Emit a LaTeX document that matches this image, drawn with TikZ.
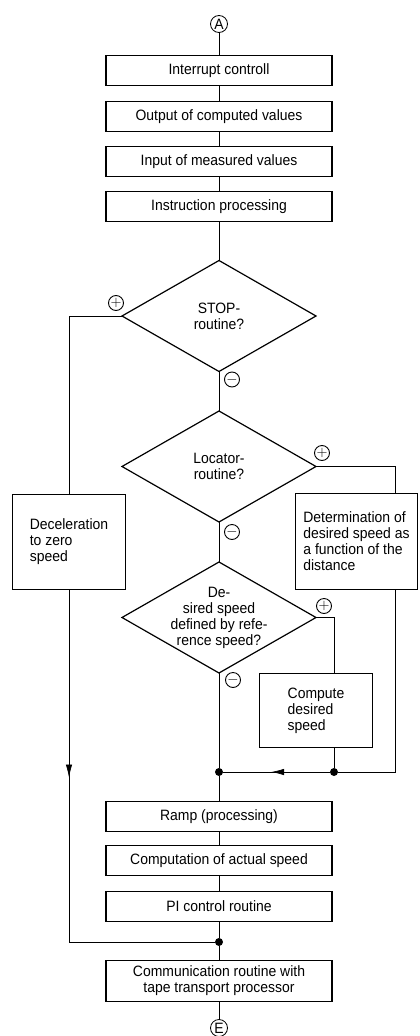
\documentclass[tikz,border=0pt]{standalone}
\usepackage{fontspec}
\setmainfont{Liberation Sans}[FakeStretch=0.93]
\usepackage{tikz}
\usetikzlibrary{shapes,arrows,arrows.meta,positioning,calc,decorations.markings}

\tikzset{
  proc/.style={draw,line width=1.2pt,outer sep=0pt,minimum width=226pt,minimum height=30pt,inner sep=2pt,align=center},
  sidebox/.style={draw,line width=1.2pt,outer sep=0pt,inner sep=2pt,align=left},
  decision/.style={diamond,draw,line width=1.2pt,outer sep=0pt,aspect=1.74,minimum width=194pt,minimum height=111pt,inner sep=-3pt,align=center},
  conn/.style={circle,draw,line width=0.8pt,outer sep=0pt,minimum size=17pt,inner sep=0pt},
  sign/.style={circle,draw,line width=0.9pt,outer sep=0pt,minimum size=15pt,inner sep=0pt,font=\fontsize{15}{15}\selectfont},
  dot/.style={circle,fill,outer sep=0pt,minimum size=8pt,inner sep=0pt},
  flow/.style={line width=0.7pt},
  arrowat/.style={postaction={decorate},decoration={markings,mark=at position #1 with {\arrow{Latex[length=13pt,width=6.5pt]}}}}
}

\begin{document}
\begin{tikzpicture}[every node/.style={font=\fontsize{15}{16}\selectfont}]
\useasboundingbox (0,0) rectangle (420pt,-1036pt);
% main column
\node[conn] (A) at (219pt,-24pt) {A};
\node[proc,below=23pt of A] (intr) {Interrupt controll};
\node[proc,below=16pt of intr] (outp) {Output of computed values};
\node[proc,below=15pt of outp] (inp) {Input of measured values};
\node[proc,below=15pt of inp] (instr) {Instruction processing};
\node[decision,below=39pt of instr] (stop) {STOP-\\routine?};
\node[decision,below=39.5pt of stop] (loc) {Locator-\\routine?};
\node[decision,below=40pt of loc] (ref) {De-\\sired speed\\defined by refe-\\rence speed?};
\node[dot,below=95pt of ref] (jl) {};
\node[proc,below=25.5pt of jl] (ramp) {Ramp (processing)};
\node[proc,below=14pt of ramp] (act) {Computation of actual speed};
\node[proc,below=16pt of act] (pi) {PI control routine};
\node[dot,below=16.5pt of pi] (jb) {};
\node[proc,minimum height=41pt,below=14.5pt of jb] (comm) {Communication routine with\\tape transport processor};
\node[conn,below=18pt of comm] (E) {E};
% side branches
\node[sidebox,minimum width=113pt,minimum height=95pt] (dec) at ([shift={(-150pt,-75.5pt)}]loc.center) {Deceleration\\to zero\\speed};
\node[sidebox,minimum width=122pt,minimum height=96pt] (det) at ([shift={(137.5pt,-75pt)}]loc.center) {Determination of\\desired speed as\\a function of the\\distance};
\node[sidebox,minimum width=113pt,minimum height=74pt] (cds) at ([shift={(97pt,-93pt)}]ref.center) {Compute\\desired\\speed};
\coordinate (dtop) at ([xshift=39pt]det.north);
\coordinate (dbot) at ([xshift=39pt]det.south);
\coordinate (ctop) at ([xshift=18pt]cds.north);
\coordinate (cbot) at ([xshift=18pt]cds.south);
\node[dot] (jr) at (cbot |- jl) {};
% signs
\node[sign] (s1p) at ([shift={(-6pt,13pt)}]stop.west) {$+$};
\node[sign] (s1m) at ([shift={(13pt,-8pt)}]stop.south) {$-$};
\node[sign] (s2p) at ([shift={(6pt,13.5pt)}]loc.east) {$+$};
\node[sign] (s2m) at ([shift={(13pt,-10pt)}]loc.south) {$-$};
\node[sign] (s3p) at ([shift={(8pt,11.5pt)}]ref.east) {$+$};
\node[sign] (s3m) at ([shift={(14pt,-7pt)}]ref.south) {$-$};
% connectors
\draw[flow] (A)--(intr) (intr)--(outp) (outp)--(inp) (inp)--(instr) (instr)--(stop);
\draw[flow] (stop)--(loc) (loc)--(ref) (ref)--(jl) (jl)--(ramp) (ramp)--(act) (act)--(pi) (pi)--(jb) (jb)--(comm) (comm)--(E);
\draw[flow] (stop.west) -| (dec.north);
\draw[flow,arrowat=188pt] (dec.south) |- (jb);
\draw[flow] (loc.east) -| (dtop);
\draw[flow] (dbot) |- (jr);
\draw[flow] (ref.east) -| (ctop);
\draw[flow] (cbot) -- (jr);
\draw[flow,arrowat=0.55] (jr) -- (jl);
\end{tikzpicture}
\end{document}
